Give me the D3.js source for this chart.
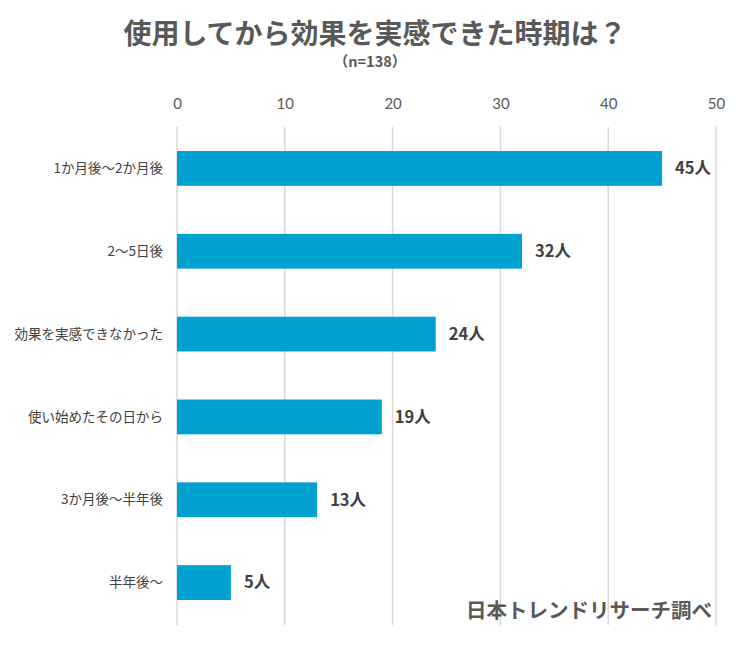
<!DOCTYPE html>
<html><head><meta charset="utf-8">
<script src="https://cdn.jsdelivr.net/npm/d3@7"></script>
<style>body{margin:0;background:#fff;} svg{display:block;}</style>
</head><body>
<script>
const categories = ["1か月後～2か月後","2～5日後","効果を実感できなかった","使い始めたその日から","3か月後～半年後","半年後～"];
const values = [45,32,24,19,13,5];
const tickValues = [0,10,20,30,40,50];

const W=750,H=648;
const svg=d3.select("body").append("svg").attr("width",W).attr("height",H);
const cjk='"Noto Sans CJK JP", sans-serif';
const x=d3.scaleLinear().domain([0,50]).range([177,716]);
const y=d3.scaleBand().domain(categories).range([127,624]).paddingInner(0.58).paddingOuter(0.29);

// gridlines
svg.append("g").selectAll("line").data(tickValues).join("line")
  .attr("x1",d=>x(d)).attr("x2",d=>x(d)).attr("y1",127).attr("y2",625)
  .attr("stroke","#d9d9d9").attr("stroke-width",1.5);

// axis labels
const ax=svg.append("g").attr("transform","translate(0,109)").call(d3.axisTop(x).tickValues(tickValues).tickSize(0).tickPadding(0));
ax.select(".domain").remove();
ax.selectAll("text").attr("font-family","Lato, 'Open Sans', sans-serif").attr("font-size",15).attr("fill","#595959");

// bars
svg.append("g").selectAll("rect").data(values).join("rect")
  .attr("x",x(0)).attr("y",(d,i)=>y(categories[i])).attr("width",d=>x(d)-x(0)).attr("height",y.bandwidth())
  .attr("fill","#00a0d1");

// category labels
svg.append("g").selectAll("text").data(categories).join("text")
  .attr("x",163).attr("y",d=>y(d)+y.bandwidth()/2).attr("dy","0.35em").attr("text-anchor","end")
  .attr("font-family",cjk).attr("font-size",13.5).attr("fill","#404040").text(d=>d);

// value labels
svg.append("g").selectAll("text").data(values).join("text")
  .attr("x",d=>x(d)+13).attr("y",(d,i)=>y(categories[i])+y.bandwidth()/2).attr("dy","0.35em")
  .attr("font-family",cjk).attr("font-size",16.5).attr("font-weight","bold").attr("fill","#404040").text(d=>d+"人");

// title
svg.append("text").attr("x",375).attr("y",44).attr("text-anchor","middle")
  .attr("font-family",cjk).attr("font-size",28).attr("font-weight","bold").attr("fill","#595959")
  .text("使用してから効果を実感できた時期は？");
svg.append("text").attr("x",370).attr("y",67).attr("text-anchor","middle")
  .attr("font-family",cjk).attr("font-size",14.5).attr("font-weight","bold").attr("fill","#595959")
  .text("（n=138）");

// source
svg.append("text").attr("x",712).attr("y",618).attr("text-anchor","end")
  .attr("font-family",cjk).attr("font-size",20.5).attr("font-weight","bold").attr("fill","#595959")
  .text("日本トレンドリサーチ調べ");
</script>
</body></html>
